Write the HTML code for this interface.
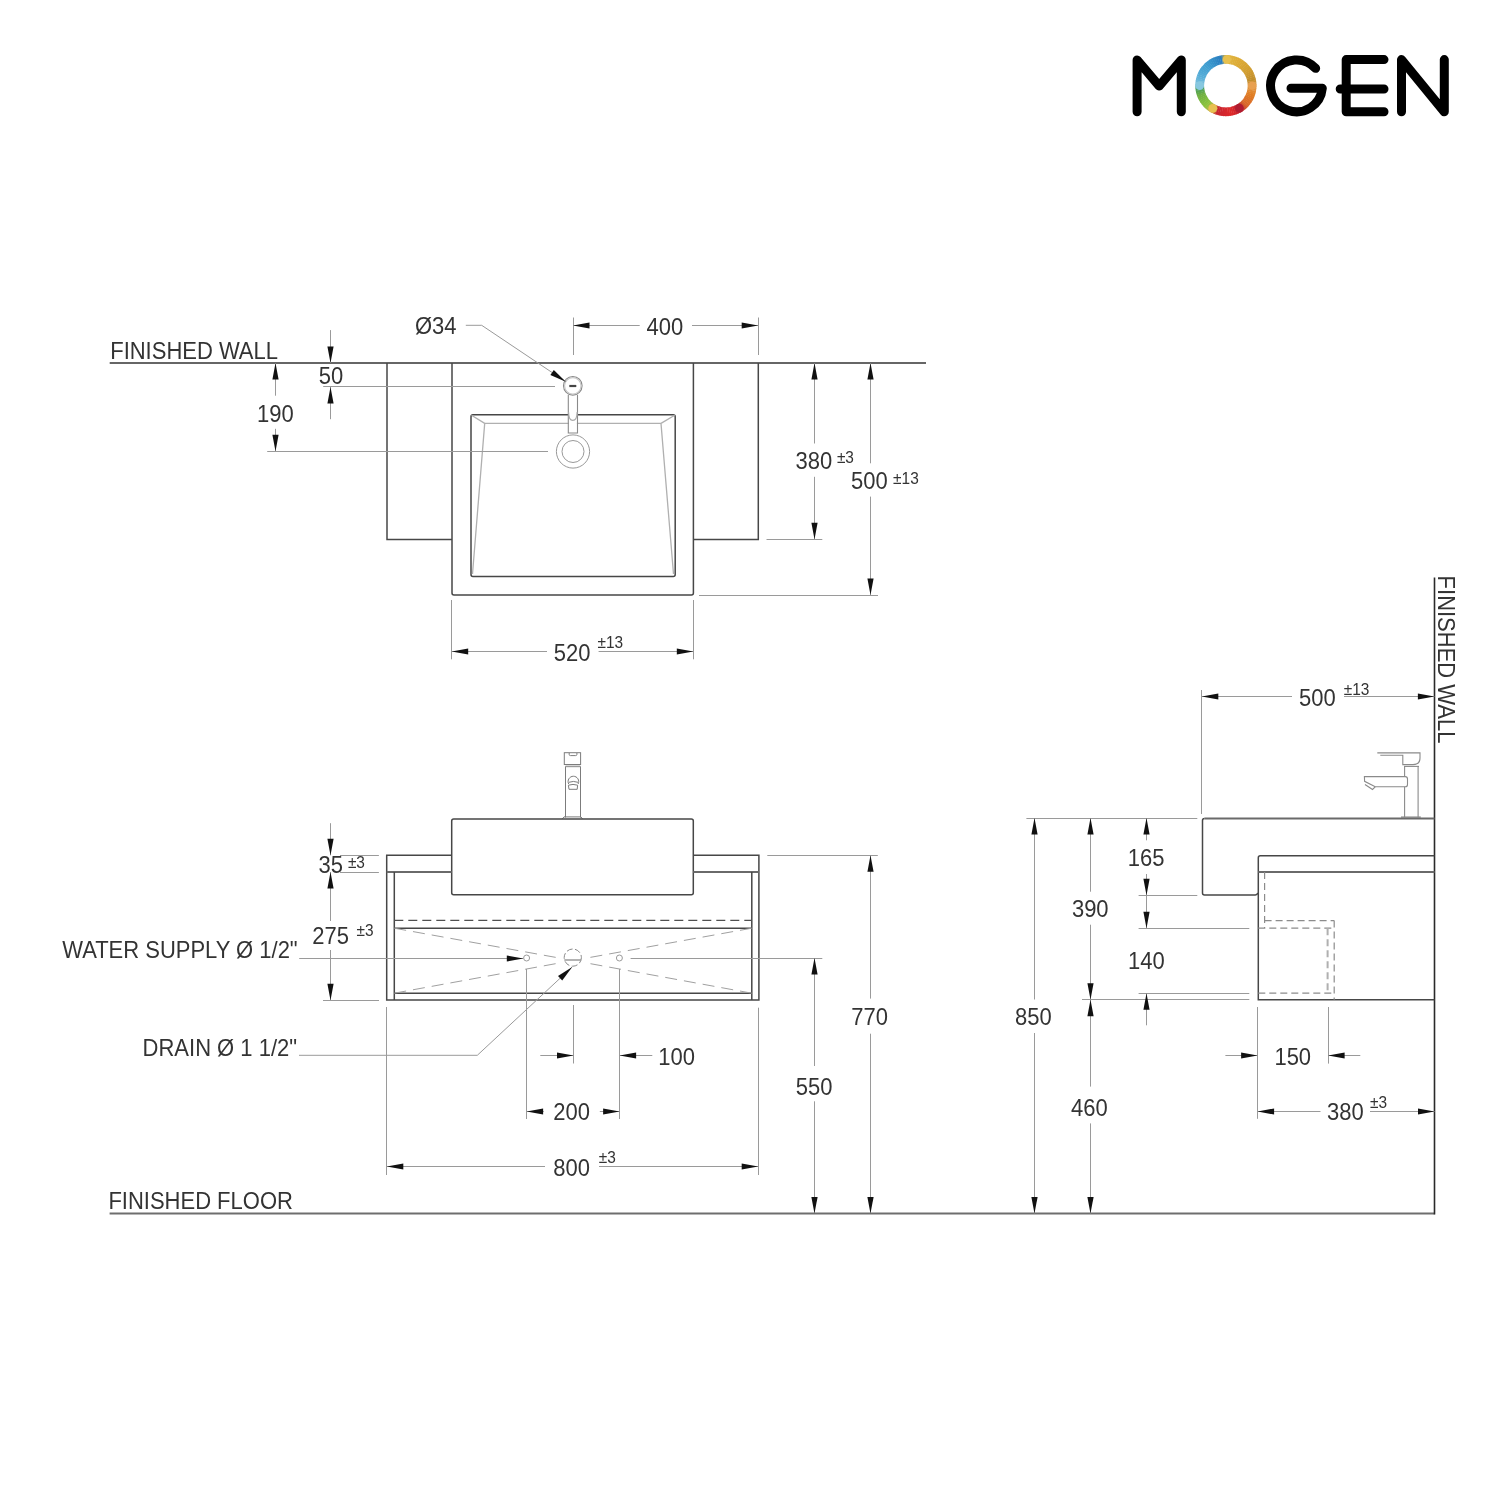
<!DOCTYPE html>
<html><head><meta charset="utf-8"><title>Vanity drawing</title>
<style>
html,body{margin:0;padding:0;background:#fff;}
body{width:1500px;height:1500px;overflow:hidden;}
svg{display:block;will-change:transform;}
.t{font-family:"Liberation Sans",sans-serif;fill:#333;}
</style></head>
<body>
<svg width="1500" height="1500" viewBox="0 0 1500 1500">
<rect width="1500" height="1500" fill="#fff"/>
<g stroke="#000" stroke-width="9" fill="none" stroke-linecap="round" stroke-linejoin="round">
<path d="M1137.1,111.7 V59.9 L1159.2,86 L1181.3,59.9 V111.7"/>
<path d="M1315.65,68.37 A25.9,25.9 0 1 0 1322.30,88.30 H1291"/>
<path d="M1384,59.6 H1346.2 V111.8 H1384 M1340.2,89 H1384"/>
<path d="M1401.5,111.8 V59.6 L1444.3,111.8 V59.6"/>
</g>
<path d="M1225.72,59.40 A26.2,26.2 0 0 1 1227.91,59.48" stroke="#e2b744" stroke-width="8.8" fill="none"/>
<path d="M1227.55,59.45 A26.2,26.2 0 0 1 1229.73,59.68" stroke="#e1b542" stroke-width="8.8" fill="none"/>
<path d="M1229.37,59.63 A26.2,26.2 0 0 1 1231.53,60.01" stroke="#e0b340" stroke-width="8.8" fill="none"/>
<path d="M1231.17,59.94 A26.2,26.2 0 0 1 1233.30,60.47" stroke="#dfb13e" stroke-width="8.8" fill="none"/>
<path d="M1232.95,60.37 A26.2,26.2 0 0 1 1235.03,61.04" stroke="#deb03b" stroke-width="8.8" fill="none"/>
<path d="M1234.69,60.92 A26.2,26.2 0 0 1 1236.72,61.74" stroke="#deae39" stroke-width="8.8" fill="none"/>
<path d="M1236.39,61.59 A26.2,26.2 0 0 1 1238.36,62.55" stroke="#ddac37" stroke-width="8.8" fill="none"/>
<path d="M1238.04,62.38 A26.2,26.2 0 0 1 1239.94,63.48" stroke="#dcaa35" stroke-width="8.8" fill="none"/>
<path d="M1239.63,63.28 A26.2,26.2 0 0 1 1241.45,64.51" stroke="#daa834" stroke-width="8.8" fill="none"/>
<path d="M1241.15,64.30 A26.2,26.2 0 0 1 1242.88,65.65" stroke="#d9a634" stroke-width="8.8" fill="none"/>
<path d="M1242.60,65.41 A26.2,26.2 0 0 1 1244.23,66.88" stroke="#d7a433" stroke-width="8.8" fill="none"/>
<path d="M1243.97,66.63 A26.2,26.2 0 0 1 1245.49,68.21" stroke="#d6a332" stroke-width="8.8" fill="none"/>
<path d="M1245.25,67.93 A26.2,26.2 0 0 1 1246.66,69.61" stroke="#d4a132" stroke-width="8.8" fill="none"/>
<path d="M1246.43,69.33 A26.2,26.2 0 0 1 1247.72,71.10" stroke="#d29f31" stroke-width="8.8" fill="none"/>
<path d="M1247.52,70.80 A26.2,26.2 0 0 1 1248.68,72.66" stroke="#d19d30" stroke-width="8.8" fill="none"/>
<path d="M1248.50,72.34 A26.2,26.2 0 0 1 1249.53,74.28" stroke="#ce9a30" stroke-width="8.8" fill="none"/>
<path d="M1249.37,73.95 A26.2,26.2 0 0 1 1250.26,75.96" stroke="#cb972f" stroke-width="8.8" fill="none"/>
<path d="M1250.12,75.62 A26.2,26.2 0 0 1 1250.87,77.68" stroke="#c7942e" stroke-width="8.8" fill="none"/>
<path d="M1250.76,77.33 A26.2,26.2 0 0 1 1251.37,79.44" stroke="#c4912d" stroke-width="8.8" fill="none"/>
<path d="M1251.28,79.08 A26.2,26.2 0 0 1 1251.73,81.23" stroke="#c08e2c" stroke-width="8.8" fill="none"/>
<path d="M1251.67,80.87 A26.2,26.2 0 0 1 1251.97,83.04" stroke="#ca9133" stroke-width="8.8" fill="none"/>
<path d="M1251.94,82.68 A26.2,26.2 0 0 1 1252.09,84.87" stroke="#d4953a" stroke-width="8.8" fill="none"/>
<path d="M1252.08,84.50 A26.2,26.2 0 0 1 1252.08,86.70" stroke="#de9841" stroke-width="8.8" fill="none"/>
<path d="M1252.09,86.33 A26.2,26.2 0 0 1 1251.94,88.52" stroke="#e39741" stroke-width="8.8" fill="none"/>
<path d="M1251.97,88.16 A26.2,26.2 0 0 1 1251.67,90.33" stroke="#e2913a" stroke-width="8.8" fill="none"/>
<path d="M1251.73,89.97 A26.2,26.2 0 0 1 1251.28,92.12" stroke="#e18a33" stroke-width="8.8" fill="none"/>
<path d="M1251.37,91.76 A26.2,26.2 0 0 1 1250.76,93.87" stroke="#e1842b" stroke-width="8.8" fill="none"/>
<path d="M1250.87,93.52 A26.2,26.2 0 0 1 1250.12,95.58" stroke="#e07e24" stroke-width="8.8" fill="none"/>
<path d="M1250.26,95.24 A26.2,26.2 0 0 1 1249.37,97.25" stroke="#df7a25" stroke-width="8.8" fill="none"/>
<path d="M1249.53,96.92 A26.2,26.2 0 0 1 1248.50,98.86" stroke="#dd7626" stroke-width="8.8" fill="none"/>
<path d="M1248.68,98.54 A26.2,26.2 0 0 1 1247.52,100.40" stroke="#dc7227" stroke-width="8.8" fill="none"/>
<path d="M1247.72,100.10 A26.2,26.2 0 0 1 1246.43,101.87" stroke="#db6f28" stroke-width="8.8" fill="none"/>
<path d="M1246.66,101.59 A26.2,26.2 0 0 1 1245.25,103.27" stroke="#da6b29" stroke-width="8.8" fill="none"/>
<path d="M1245.49,102.99 A26.2,26.2 0 0 1 1243.97,104.57" stroke="#d8672a" stroke-width="8.8" fill="none"/>
<path d="M1244.23,104.32 A26.2,26.2 0 0 1 1242.60,105.79" stroke="#d2582b" stroke-width="8.8" fill="none"/>
<path d="M1242.88,105.55 A26.2,26.2 0 0 1 1241.15,106.90" stroke="#c9452d" stroke-width="8.8" fill="none"/>
<path d="M1241.45,106.69 A26.2,26.2 0 0 1 1239.63,107.92" stroke="#c1332e" stroke-width="8.8" fill="none"/>
<path d="M1239.94,107.72 A26.2,26.2 0 0 1 1238.04,108.82" stroke="#b82030" stroke-width="8.8" fill="none"/>
<path d="M1238.36,108.65 A26.2,26.2 0 0 1 1236.39,109.61" stroke="#c1222f" stroke-width="8.8" fill="none"/>
<path d="M1236.72,109.46 A26.2,26.2 0 0 1 1234.69,110.28" stroke="#ca242d" stroke-width="8.8" fill="none"/>
<path d="M1235.03,110.16 A26.2,26.2 0 0 1 1232.95,110.83" stroke="#d3272c" stroke-width="8.8" fill="none"/>
<path d="M1233.30,110.73 A26.2,26.2 0 0 1 1231.17,111.26" stroke="#dc292b" stroke-width="8.8" fill="none"/>
<path d="M1231.53,111.19 A26.2,26.2 0 0 1 1229.37,111.57" stroke="#de2a2a" stroke-width="8.8" fill="none"/>
<path d="M1229.73,111.52 A26.2,26.2 0 0 1 1227.55,111.75" stroke="#db292b" stroke-width="8.8" fill="none"/>
<path d="M1227.91,111.72 A26.2,26.2 0 0 1 1225.72,111.80" stroke="#d8282c" stroke-width="8.8" fill="none"/>
<path d="M1226.08,111.80 A26.2,26.2 0 0 1 1223.89,111.72" stroke="#d5272d" stroke-width="8.8" fill="none"/>
<path d="M1224.25,111.75 A26.2,26.2 0 0 1 1222.07,111.52" stroke="#d2262e" stroke-width="8.8" fill="none"/>
<path d="M1222.43,111.57 A26.2,26.2 0 0 1 1220.27,111.19" stroke="#ce262e" stroke-width="8.8" fill="none"/>
<path d="M1220.63,111.26 A26.2,26.2 0 0 1 1218.50,110.73" stroke="#cb252f" stroke-width="8.8" fill="none"/>
<path d="M1218.85,110.83 A26.2,26.2 0 0 1 1216.77,110.16" stroke="#c82430" stroke-width="8.8" fill="none"/>
<path d="M1217.11,110.28 A26.2,26.2 0 0 1 1215.08,109.46" stroke="#c84c37" stroke-width="8.8" fill="none"/>
<path d="M1215.41,109.61 A26.2,26.2 0 0 1 1213.44,108.65" stroke="#c8743e" stroke-width="8.8" fill="none"/>
<path d="M1213.76,108.82 A26.2,26.2 0 0 1 1211.86,107.72" stroke="#c89c45" stroke-width="8.8" fill="none"/>
<path d="M1212.17,107.92 A26.2,26.2 0 0 1 1210.35,106.69" stroke="#bfb346" stroke-width="8.8" fill="none"/>
<path d="M1210.65,106.90 A26.2,26.2 0 0 1 1208.92,105.55" stroke="#acb942" stroke-width="8.8" fill="none"/>
<path d="M1209.20,105.79 A26.2,26.2 0 0 1 1207.57,104.32" stroke="#9abf3f" stroke-width="8.8" fill="none"/>
<path d="M1207.83,104.57 A26.2,26.2 0 0 1 1206.31,102.99" stroke="#8bc33c" stroke-width="8.8" fill="none"/>
<path d="M1206.55,103.27 A26.2,26.2 0 0 1 1205.14,101.59" stroke="#86c03d" stroke-width="8.8" fill="none"/>
<path d="M1205.37,101.87 A26.2,26.2 0 0 1 1204.08,100.10" stroke="#82bd3e" stroke-width="8.8" fill="none"/>
<path d="M1204.28,100.40 A26.2,26.2 0 0 1 1203.12,98.54" stroke="#7dba3f" stroke-width="8.8" fill="none"/>
<path d="M1203.30,98.86 A26.2,26.2 0 0 1 1202.27,96.92" stroke="#79b640" stroke-width="8.8" fill="none"/>
<path d="M1202.43,97.25 A26.2,26.2 0 0 1 1201.54,95.24" stroke="#74b341" stroke-width="8.8" fill="none"/>
<path d="M1201.68,95.58 A26.2,26.2 0 0 1 1200.93,93.52" stroke="#70b042" stroke-width="8.8" fill="none"/>
<path d="M1201.04,93.87 A26.2,26.2 0 0 1 1200.43,91.76" stroke="#64aa49" stroke-width="8.8" fill="none"/>
<path d="M1200.52,92.12 A26.2,26.2 0 0 1 1200.07,89.97" stroke="#59a550" stroke-width="8.8" fill="none"/>
<path d="M1200.13,90.33 A26.2,26.2 0 0 1 1199.83,88.16" stroke="#4d9f56" stroke-width="8.8" fill="none"/>
<path d="M1199.86,88.52 A26.2,26.2 0 0 1 1199.71,86.33" stroke="#5ba984" stroke-width="8.8" fill="none"/>
<path d="M1199.72,86.70 A26.2,26.2 0 0 1 1199.72,84.50" stroke="#71b8bf" stroke-width="8.8" fill="none"/>
<path d="M1199.71,84.87 A26.2,26.2 0 0 1 1199.86,82.68" stroke="#78bedc" stroke-width="8.8" fill="none"/>
<path d="M1199.83,83.04 A26.2,26.2 0 0 1 1200.13,80.87" stroke="#70badb" stroke-width="8.8" fill="none"/>
<path d="M1200.07,81.23 A26.2,26.2 0 0 1 1200.52,79.08" stroke="#68b6da" stroke-width="8.8" fill="none"/>
<path d="M1200.43,79.44 A26.2,26.2 0 0 1 1201.04,77.33" stroke="#60b2d9" stroke-width="8.8" fill="none"/>
<path d="M1200.93,77.68 A26.2,26.2 0 0 1 1201.68,75.62" stroke="#58aed8" stroke-width="8.8" fill="none"/>
<path d="M1201.54,75.96 A26.2,26.2 0 0 1 1202.43,73.95" stroke="#54acd7" stroke-width="8.8" fill="none"/>
<path d="M1202.27,74.28 A26.2,26.2 0 0 1 1203.30,72.34" stroke="#51a9d6" stroke-width="8.8" fill="none"/>
<path d="M1203.12,72.66 A26.2,26.2 0 0 1 1204.28,70.80" stroke="#4da7d4" stroke-width="8.8" fill="none"/>
<path d="M1204.08,71.10 A26.2,26.2 0 0 1 1205.37,69.33" stroke="#4aa4d3" stroke-width="8.8" fill="none"/>
<path d="M1205.14,69.61 A26.2,26.2 0 0 1 1206.55,67.93" stroke="#46a2d2" stroke-width="8.8" fill="none"/>
<path d="M1206.31,68.21 A26.2,26.2 0 0 1 1207.83,66.63" stroke="#42a0d1" stroke-width="8.8" fill="none"/>
<path d="M1207.57,66.88 A26.2,26.2 0 0 1 1209.20,65.41" stroke="#3f9dd0" stroke-width="8.8" fill="none"/>
<path d="M1208.92,65.65 A26.2,26.2 0 0 1 1210.65,64.30" stroke="#3c9ace" stroke-width="8.8" fill="none"/>
<path d="M1210.35,64.51 A26.2,26.2 0 0 1 1212.17,63.28" stroke="#3996cc" stroke-width="8.8" fill="none"/>
<path d="M1211.86,63.48 A26.2,26.2 0 0 1 1213.76,62.38" stroke="#3792ca" stroke-width="8.8" fill="none"/>
<path d="M1213.44,62.55 A26.2,26.2 0 0 1 1215.41,61.59" stroke="#348ec8" stroke-width="8.8" fill="none"/>
<path d="M1215.08,61.74 A26.2,26.2 0 0 1 1217.11,60.92" stroke="#328ac6" stroke-width="8.8" fill="none"/>
<path d="M1216.77,61.04 A26.2,26.2 0 0 1 1218.85,60.37" stroke="#2f86c4" stroke-width="8.8" fill="none"/>
<path d="M1218.50,60.47 A26.2,26.2 0 0 1 1220.63,59.94" stroke="#2d82c2" stroke-width="8.8" fill="none"/>
<path d="M1220.27,60.01 A26.2,26.2 0 0 1 1222.43,59.63" stroke="#2a7ec0" stroke-width="8.8" fill="none"/>
<path d="M1222.07,59.68 A26.2,26.2 0 0 1 1224.25,59.45" stroke="#74958f" stroke-width="8.8" fill="none"/>
<path d="M1223.89,59.48 A26.2,26.2 0 0 1 1226.08,59.40" stroke="#bdac5e" stroke-width="8.8" fill="none"/>
<circle cx="1226.81" cy="59.42" r="4.2" fill="#e6c04e"/>
<circle cx="1252.10" cy="85.60" r="4.2" fill="#e8a050"/>
<circle cx="1239.39" cy="108.06" r="4.4" fill="#b01c30"/>
<circle cx="1212.80" cy="108.29" r="4.4" fill="#e8c050"/>
<circle cx="1199.70" cy="85.60" r="4.3" fill="#88c8e0"/>
<line x1="109.7" y1="363" x2="926" y2="363" stroke="#333" stroke-width="1.6" />
<text class="t" transform="translate(110.2,358.8) scale(0.936,1)" font-size="23.5" >FINISHED WALL</text>
<path d="M387,363 V539.5 H452" stroke="#474747" stroke-width="1.5" fill="none" />
<path d="M758.3,363 V539.5 H693.4" stroke="#474747" stroke-width="1.5" fill="none" />
<path d="M452,363 V593 Q452,595 454,595 H691.4 Q693.4,595 693.4,593 V363" stroke="#474747" stroke-width="1.5" fill="none" />
<path d="M473,414.7 H673.2 Q675.2,414.7 675.2,416.7 V574.5 Q675.2,576.5 673.2,576.5 H473 Q471,576.5 471,574.5 V416.7 Q471,414.7 473,414.7 Z" stroke="#474747" stroke-width="1.5" fill="none" />
<g stroke="#b0b0b0" stroke-width="1.3" fill="none">
<path d="M484.7,423.4 H661 L673.5,574 M484.7,423.4 L472.5,574 M471.5,415.2 L484.7,423.4 M674.7,415.2 L661,423.4"/>
</g>
<rect x="568.9" y="405" width="8" height="27.5" fill="#fff"/>
<g stroke="#8a8a8a" stroke-width="1.1" fill="none">
<circle cx="572.8" cy="385.8" r="9.3"/>
<circle cx="572.8" cy="385.8" r="8.2" stroke="#c8c8c8"/>
<path d="M568.3,394.8 V433 H577.5 V394.8"/>
<path d="M568.6,412 Q568.6,420.4 572.8,420.4 Q577.1,420.4 577.1,412" stroke="#aaa"/>
</g>
<line x1="569.3" y1="386" x2="576.3" y2="386" stroke="#444" stroke-width="2.2" />
<circle cx="573" cy="451.5" r="16.6" stroke="#999" stroke-width="1" fill="none"/>
<circle cx="573" cy="451.5" r="11" stroke="#999" stroke-width="1" fill="none"/>
<path d="M465.8,325.3 H481.7 L565.8,381.7" stroke="#9a9a9a" stroke-width="1.0" fill="none" />
<polygon points="565.80,381.70 550.37,375.08 553.82,369.94" fill="#111"/>
<text class="t" transform="translate(415.0,334.2) scale(0.936,1)" font-size="23.5" >Ø34</text>
<line x1="573.5" y1="317.5" x2="573.5" y2="355" stroke="#9a9a9a" stroke-width="1.0" />
<line x1="758.5" y1="317.5" x2="758.5" y2="355" stroke="#9a9a9a" stroke-width="1.0" />
<line x1="573" y1="325.5" x2="639.7" y2="325.5" stroke="#9a9a9a" stroke-width="1.0" />
<line x1="692" y1="325.5" x2="758.2" y2="325.5" stroke="#9a9a9a" stroke-width="1.0" />
<polygon points="573.00,325.50 589.50,322.40 589.50,328.60" fill="#111"/>
<polygon points="758.20,325.50 741.70,328.60 741.70,322.40" fill="#111"/>
<text class="t" transform="translate(646.51,335.13) scale(0.936,1)" font-size="23.5" >400</text>
<line x1="330.5" y1="330.1" x2="330.5" y2="363" stroke="#9a9a9a" stroke-width="1.0" />
<polygon points="330.50,363.00 327.40,346.50 333.60,346.50" fill="#111"/>
<line x1="330.5" y1="386.9" x2="330.5" y2="419.2" stroke="#9a9a9a" stroke-width="1.0" />
<polygon points="330.50,386.90 333.60,403.40 327.40,403.40" fill="#111"/>
<line x1="323.2" y1="386.5" x2="555" y2="386.5" stroke="#9a9a9a" stroke-width="1.0" />
<text class="t" transform="translate(318.81,383.73) scale(0.936,1)" font-size="23.5" >50</text>
<line x1="275.5" y1="363" x2="275.5" y2="395.7" stroke="#9a9a9a" stroke-width="1.0" />
<polygon points="275.50,363.00 278.60,379.50 272.40,379.50" fill="#111"/>
<line x1="275.5" y1="428.8" x2="275.5" y2="451.2" stroke="#9a9a9a" stroke-width="1.0" />
<polygon points="275.50,451.20 272.40,434.70 278.60,434.70" fill="#111"/>
<line x1="267.2" y1="451.5" x2="548" y2="451.5" stroke="#9a9a9a" stroke-width="1.0" />
<text class="t" transform="translate(257.11,421.63) scale(0.936,1)" font-size="23.5" >190</text>
<line x1="766.5" y1="539.5" x2="822.3" y2="539.5" stroke="#9a9a9a" stroke-width="1.0" />
<line x1="814.5" y1="363" x2="814.5" y2="443.5" stroke="#9a9a9a" stroke-width="1.0" />
<line x1="814.5" y1="476.8" x2="814.5" y2="539.2" stroke="#9a9a9a" stroke-width="1.0" />
<polygon points="814.50,363.00 817.60,379.50 811.40,379.50" fill="#111"/>
<polygon points="814.50,539.20 811.40,522.70 817.60,522.70" fill="#111"/>
<text class="t" transform="translate(795.61,468.83) scale(0.936,1)" font-size="23.5" >380</text>
<text class="t" transform="translate(836.89,463.01) scale(0.936,1)" font-size="16.5" >±3</text>
<line x1="699" y1="595.5" x2="878" y2="595.5" stroke="#9a9a9a" stroke-width="1.0" />
<line x1="870.5" y1="363" x2="870.5" y2="463.3" stroke="#9a9a9a" stroke-width="1.0" />
<line x1="870.5" y1="496.6" x2="870.5" y2="595" stroke="#9a9a9a" stroke-width="1.0" />
<polygon points="870.50,363.00 873.60,379.50 867.40,379.50" fill="#111"/>
<polygon points="870.50,595.00 867.40,578.50 873.60,578.50" fill="#111"/>
<text class="t" transform="translate(851.01,488.53) scale(0.936,1)" font-size="23.5" >500</text>
<text class="t" transform="translate(893.09,483.51) scale(0.936,1)" font-size="16.5" >±13</text>
<line x1="451.5" y1="600" x2="451.5" y2="659.3" stroke="#9a9a9a" stroke-width="1.0" />
<line x1="693.5" y1="600" x2="693.5" y2="659.3" stroke="#9a9a9a" stroke-width="1.0" />
<line x1="451.7" y1="651.5" x2="547" y2="651.5" stroke="#9a9a9a" stroke-width="1.0" />
<line x1="598.6" y1="651.5" x2="693.3" y2="651.5" stroke="#9a9a9a" stroke-width="1.0" />
<polygon points="451.70,651.50 468.20,648.40 468.20,654.60" fill="#111"/>
<polygon points="693.30,651.50 676.80,654.60 676.80,648.40" fill="#111"/>
<text class="t" transform="translate(553.71,660.63) scale(0.936,1)" font-size="23.5" >520</text>
<text class="t" transform="translate(597.49,647.91) scale(0.936,1)" font-size="16.5" >±13</text>
<g stroke="#7c7c7c" stroke-width="1" fill="none">
<rect x="564.3" y="752.7" width="16.3" height="11.8"/>
<path d="M569.2,753 V754.5 Q569.2,755.6 570.5,755.6 H575.6 Q576.9,755.6 576.9,754.5 V753"/>
<path d="M565.5,766.3 V817.5 M580.5,766.3 V817.5"/>
<path d="M568.7,784 A5.3,5.3 0 1 1 578.1,784 M568.8,782.3 Q573.4,780.6 578,782.3 M568.4,785.2 Q573,783.6 577.6,785.2 L577.2,789.3 H569 Z"/>
<path d="M562.3,818.8 L564,816.9 H581 L582.5,818.8"/>
</g>
<line x1="565.5" y1="766.4" x2="580.5" y2="766.4" stroke="#9a9a9a" stroke-width="1.6" />
<path d="M453.7,818.9 H691.3 Q693.3,818.9 693.3,820.9 V892.8 Q693.3,894.8 691.3,894.8 H453.7 Q451.7,894.8 451.7,892.8 V820.9 Q451.7,818.9 453.7,818.9 Z" stroke="#474747" stroke-width="1.5" fill="none" />
<path d="M451.7,855.3 H386.7 V1000 H758.9 V855.3 H693.3" stroke="#474747" stroke-width="1.5" fill="none" />
<line x1="386.7" y1="872.1" x2="451.7" y2="872.1" stroke="#6a6a6a" stroke-width="2" />
<line x1="693.3" y1="872.1" x2="758.9" y2="872.1" stroke="#6a6a6a" stroke-width="2" />
<path d="M394.3,872.1 V1000 M751.8,872.1 V1000" stroke="#474747" stroke-width="1.5" fill="none" />
<line x1="394.3" y1="920.4" x2="751.8" y2="920.4" stroke="#505050" stroke-width="1.4" stroke-dasharray="9 5"/>
<path d="M394.3,928.2 H751.8 M394.3,993.2 H751.8" stroke="#474747" stroke-width="1.5" fill="none" />
<g stroke="#a0a0a0" stroke-width="1" stroke-dasharray="12 7" fill="none">
<path d="M394.3,928.2 L558.6,957.90 M394.3,993.2 L558.6,963.14 M751.8,928.2 L587,957.97 M751.8,993.2 L587,963.06"/>
</g>
<circle cx="572.8" cy="957.6" r="8.6" stroke="#8a8a8a" stroke-width="1" fill="none" stroke-dasharray="6 2.5"/>
<line x1="564.3" y1="960" x2="580.9" y2="960" stroke="#8a8a8a" stroke-width="1.3" />
<circle cx="526.6" cy="958" r="3" stroke="#9a9a9a" stroke-width="1" fill="none"/>
<circle cx="619.4" cy="958" r="3" stroke="#9a9a9a" stroke-width="1" fill="none"/>
<line x1="299.2" y1="958.5" x2="523" y2="958.5" stroke="#9a9a9a" stroke-width="1.0" />
<polygon points="523.30,958.50 506.80,961.60 506.80,955.40" fill="#111"/>
<line x1="630.6" y1="958.5" x2="822.3" y2="958.5" stroke="#9a9a9a" stroke-width="1.0" />
<text class="t" transform="translate(62.2,958.3) scale(0.936,1)" font-size="23.5" >WATER SUPPLY Ø 1/2"</text>
<path d="M299,1055.3 H477.3 L572.2,967" stroke="#9a9a9a" stroke-width="1.0" fill="none" />
<polygon points="572.20,967.00 562.23,980.51 558.01,975.97" fill="#111"/>
<text class="t" transform="translate(142.6,1055.9) scale(0.936,1)" font-size="23.5" >DRAIN Ø 1 1/2"</text>
<line x1="526.5" y1="969" x2="526.5" y2="1119" stroke="#9a9a9a" stroke-width="1.0" />
<line x1="573.5" y1="1005" x2="573.5" y2="1063.5" stroke="#9a9a9a" stroke-width="1.0" />
<line x1="619.5" y1="969" x2="619.5" y2="1119" stroke="#9a9a9a" stroke-width="1.0" />
<line x1="386.5" y1="1007" x2="386.5" y2="1175" stroke="#9a9a9a" stroke-width="1.0" />
<line x1="758.5" y1="1007.7" x2="758.5" y2="1175" stroke="#9a9a9a" stroke-width="1.0" />
<line x1="540.3" y1="1055.5" x2="573.5" y2="1055.5" stroke="#9a9a9a" stroke-width="1.0" />
<polygon points="573.50,1055.50 557.00,1058.60 557.00,1052.40" fill="#111"/>
<line x1="619.6" y1="1055.5" x2="652.3" y2="1055.5" stroke="#9a9a9a" stroke-width="1.0" />
<polygon points="619.60,1055.50 636.10,1052.40 636.10,1058.60" fill="#111"/>
<text class="t" transform="translate(658.31,1064.63) scale(0.936,1)" font-size="23.5" >100</text>
<line x1="526.3" y1="1111.5" x2="543.8" y2="1111.5" stroke="#9a9a9a" stroke-width="1.0" />
<polygon points="526.60,1111.50 543.10,1108.40 543.10,1114.60" fill="#111"/>
<line x1="599.8" y1="1111.5" x2="619.6" y2="1111.5" stroke="#9a9a9a" stroke-width="1.0" />
<polygon points="619.60,1111.50 603.10,1114.60 603.10,1108.40" fill="#111"/>
<text class="t" transform="translate(553.31,1119.83) scale(0.936,1)" font-size="23.5" >200</text>
<line x1="386.8" y1="1166.5" x2="545" y2="1166.5" stroke="#9a9a9a" stroke-width="1.0" />
<polygon points="386.80,1166.50 403.30,1163.40 403.30,1169.60" fill="#111"/>
<line x1="599" y1="1166.5" x2="758.2" y2="1166.5" stroke="#9a9a9a" stroke-width="1.0" />
<polygon points="758.20,1166.50 741.70,1169.60 741.70,1163.40" fill="#111"/>
<text class="t" transform="translate(553.31,1175.83) scale(0.936,1)" font-size="23.5" >800</text>
<text class="t" transform="translate(598.69,1163.01) scale(0.936,1)" font-size="16.5" >±3</text>
<line x1="330.5" y1="823.2" x2="330.5" y2="855.3" stroke="#9a9a9a" stroke-width="1.0" />
<polygon points="330.50,855.30 327.40,838.80 333.60,838.80" fill="#111"/>
<line x1="330.5" y1="872.1" x2="330.5" y2="921" stroke="#9a9a9a" stroke-width="1.0" />
<polygon points="330.50,872.10 333.60,888.60 327.40,888.60" fill="#111"/>
<line x1="330.5" y1="950" x2="330.5" y2="1000.3" stroke="#9a9a9a" stroke-width="1.0" />
<polygon points="330.50,1000.30 327.40,983.80 333.60,983.80" fill="#111"/>
<line x1="340" y1="855.5" x2="378.9" y2="855.5" stroke="#9a9a9a" stroke-width="1.0" />
<line x1="340" y1="872.5" x2="378.9" y2="872.5" stroke="#9a9a9a" stroke-width="1.0" />
<line x1="323" y1="1000.5" x2="379" y2="1000.5" stroke="#9a9a9a" stroke-width="1.0" />
<text class="t" transform="translate(318.41,872.63) scale(0.936,1)" font-size="23.5" >35</text>
<text class="t" transform="translate(347.89,868.31) scale(0.936,1)" font-size="16.5" >±3</text>
<text class="t" transform="translate(312.21,944.33) scale(0.936,1)" font-size="23.5" >275</text>
<text class="t" transform="translate(356.49,936.31) scale(0.936,1)" font-size="16.5" >±3</text>
<line x1="767.3" y1="855.5" x2="877.8" y2="855.5" stroke="#9a9a9a" stroke-width="1.0" />
<line x1="870.5" y1="855.3" x2="870.5" y2="998.6" stroke="#9a9a9a" stroke-width="1.0" />
<polygon points="870.50,855.30 873.60,871.80 867.40,871.80" fill="#111"/>
<line x1="870.5" y1="1033.7" x2="870.5" y2="1213.5" stroke="#9a9a9a" stroke-width="1.0" />
<polygon points="870.50,1213.50 867.40,1197.00 873.60,1197.00" fill="#111"/>
<text class="t" transform="translate(851.31,1024.53) scale(0.936,1)" font-size="23.5" >770</text>
<line x1="814.5" y1="958" x2="814.5" y2="1066" stroke="#9a9a9a" stroke-width="1.0" />
<polygon points="814.50,958.00 817.60,974.50 811.40,974.50" fill="#111"/>
<line x1="814.5" y1="1101.3" x2="814.5" y2="1213.5" stroke="#9a9a9a" stroke-width="1.0" />
<polygon points="814.50,1213.50 811.40,1197.00 817.60,1197.00" fill="#111"/>
<text class="t" transform="translate(795.71,1094.83) scale(0.936,1)" font-size="23.5" >550</text>
<line x1="109.6" y1="1213.5" x2="1434.5" y2="1213.5" stroke="#6e6e6e" stroke-width="2.2" />
<text class="t" transform="translate(108.4,1208.9) scale(0.936,1)" font-size="23.5" >FINISHED FLOOR</text>
<line x1="1434.5" y1="577.6" x2="1434.5" y2="1214.5" stroke="#2a2a2a" stroke-width="1.6" />
<text class="t" font-size="23.5" transform="translate(1438.0,575.6) rotate(90) scale(0.936,1)" x="0" y="0">FINISHED WALL</text>
<line x1="1204.5" y1="818.4" x2="1434.5" y2="818.4" stroke="#6a6a6a" stroke-width="2" />
<path d="M1204.5,818.4 Q1202.5,818.4 1202.5,820.4 V892.9 Q1202.5,894.9 1204.5,894.9 H1255.3 Q1257.4,894.9 1257.8,892.9" stroke="#474747" stroke-width="1.5" fill="none" />
<path d="M1434.5,855.8 H1260.3 Q1258.3,855.8 1258.3,857.8 V999.8 H1434.5" stroke="#474747" stroke-width="1.5" fill="none" />
<line x1="1258.3" y1="872" x2="1434.5" y2="872" stroke="#6a6a6a" stroke-width="2" />
<g stroke="#8c8c8c" stroke-width="1.2" fill="none" stroke-dasharray="7 4">
<path d="M1264.6,872 V928.2 M1264.6,920.6 H1334.2 M1258.3,928.2 H1334.2 M1258.3,993.1 H1334.2 M1334.2,920.6 V999.8"/>
<path d="M1327.6,928.2 V993.1" stroke="#b0b0b0" stroke-width="2"/>
</g>
<g stroke="#8a8a8a" stroke-width="1.1" fill="none">
<path d="M1377.3,752.9 H1420 V758 Q1420,764.6 1413,764.6 H1402.8 V755.3 H1380.3"/>
<path d="M1404,766.4 H1419"/>
<path d="M1404.6,766.4 V776.6 M1404.6,786.8 V818 M1418.1,766.4 V818"/>
<path d="M1364.4,776.6 H1405.3 Q1407.5,776.6 1407.5,779 V784.5 Q1407.5,786.8 1405.3,786.8 H1375.2 L1364.6,781.3 Z"/>
<path d="M1365,784.5 L1372.5,789.5 L1375.2,786.8"/>
</g>
<line x1="1401" y1="817.2" x2="1420.8" y2="817.2" stroke="#8a8a8a" stroke-width="1.5" />
<line x1="1026.4" y1="818.5" x2="1197.3" y2="818.5" stroke="#9a9a9a" stroke-width="1.0" />
<line x1="1138.6" y1="895.5" x2="1197.3" y2="895.5" stroke="#9a9a9a" stroke-width="1.0" />
<line x1="1138.6" y1="928.5" x2="1249.3" y2="928.5" stroke="#9a9a9a" stroke-width="1.0" />
<line x1="1138.6" y1="993.5" x2="1249.3" y2="993.5" stroke="#9a9a9a" stroke-width="1.0" />
<line x1="1082" y1="999.5" x2="1249.3" y2="999.5" stroke="#9a9a9a" stroke-width="1.0" />
<line x1="1201.5" y1="690" x2="1201.5" y2="814" stroke="#9a9a9a" stroke-width="1.0" />
<line x1="1257.5" y1="1007" x2="1257.5" y2="1118.8" stroke="#9a9a9a" stroke-width="1.0" />
<line x1="1328.5" y1="1007" x2="1328.5" y2="1063.6" stroke="#9a9a9a" stroke-width="1.0" />
<line x1="1201.8" y1="696.5" x2="1292" y2="696.5" stroke="#9a9a9a" stroke-width="1.0" />
<line x1="1344" y1="696.5" x2="1434.4" y2="696.5" stroke="#9a9a9a" stroke-width="1.0" />
<polygon points="1201.80,696.50 1218.30,693.40 1218.30,699.60" fill="#111"/>
<polygon points="1434.40,696.50 1417.90,699.60 1417.90,693.40" fill="#111"/>
<text class="t" transform="translate(1299.01,706.43) scale(0.936,1)" font-size="23.5" >500</text>
<text class="t" transform="translate(1343.69,694.81) scale(0.936,1)" font-size="16.5" >±13</text>
<line x1="1034.5" y1="818" x2="1034.5" y2="999.5" stroke="#9a9a9a" stroke-width="1.0" />
<polygon points="1034.50,818.00 1037.60,834.50 1031.40,834.50" fill="#111"/>
<line x1="1034.5" y1="1033" x2="1034.5" y2="1213.5" stroke="#9a9a9a" stroke-width="1.0" />
<polygon points="1034.50,1213.50 1031.40,1197.00 1037.60,1197.00" fill="#111"/>
<text class="t" transform="translate(1015.01,1025.23) scale(0.936,1)" font-size="23.5" >850</text>
<line x1="1090.5" y1="818" x2="1090.5" y2="891.7" stroke="#9a9a9a" stroke-width="1.0" />
<polygon points="1090.50,818.00 1093.60,834.50 1087.40,834.50" fill="#111"/>
<line x1="1090.5" y1="924.7" x2="1090.5" y2="999.7" stroke="#9a9a9a" stroke-width="1.0" />
<polygon points="1090.50,999.70 1087.40,983.20 1093.60,983.20" fill="#111"/>
<text class="t" transform="translate(1071.91,917.33) scale(0.936,1)" font-size="23.5" >390</text>
<line x1="1090.5" y1="999.7" x2="1090.5" y2="1086.6" stroke="#9a9a9a" stroke-width="1.0" />
<polygon points="1090.50,999.70 1093.60,1016.20 1087.40,1016.20" fill="#111"/>
<line x1="1090.5" y1="1123.4" x2="1090.5" y2="1213.5" stroke="#9a9a9a" stroke-width="1.0" />
<polygon points="1090.50,1213.50 1087.40,1197.00 1093.60,1197.00" fill="#111"/>
<text class="t" transform="translate(1071.01,1115.73) scale(0.936,1)" font-size="23.5" >460</text>
<line x1="1146.5" y1="818" x2="1146.5" y2="840.3" stroke="#9a9a9a" stroke-width="1.0" />
<polygon points="1146.50,818.00 1149.60,834.50 1143.40,834.50" fill="#111"/>
<line x1="1146.5" y1="874" x2="1146.5" y2="928.2" stroke="#9a9a9a" stroke-width="1.0" />
<polygon points="1146.50,895.30 1143.40,878.80 1149.60,878.80" fill="#111"/>
<polygon points="1146.50,928.20 1143.40,911.70 1149.60,911.70" fill="#111"/>
<text class="t" transform="translate(1127.81,865.93) scale(0.936,1)" font-size="23.5" >165</text>
<text class="t" transform="translate(1128.01,969.33) scale(0.936,1)" font-size="23.5" >140</text>
<line x1="1146.5" y1="993.3" x2="1146.5" y2="1025.3" stroke="#9a9a9a" stroke-width="1.0" />
<polygon points="1146.50,993.30 1149.60,1009.80 1143.40,1009.80" fill="#111"/>
<line x1="1225.4" y1="1055.5" x2="1257.6" y2="1055.5" stroke="#9a9a9a" stroke-width="1.0" />
<polygon points="1257.60,1055.50 1241.10,1058.60 1241.10,1052.40" fill="#111"/>
<line x1="1328.1" y1="1055.5" x2="1360.3" y2="1055.5" stroke="#9a9a9a" stroke-width="1.0" />
<polygon points="1328.10,1055.50 1344.60,1052.40 1344.60,1058.60" fill="#111"/>
<text class="t" transform="translate(1274.41,1065.13) scale(0.936,1)" font-size="23.5" >150</text>
<line x1="1257.6" y1="1111.5" x2="1320.5" y2="1111.5" stroke="#9a9a9a" stroke-width="1.0" />
<polygon points="1257.60,1111.50 1274.10,1108.40 1274.10,1114.60" fill="#111"/>
<line x1="1370" y1="1111.5" x2="1434.5" y2="1111.5" stroke="#9a9a9a" stroke-width="1.0" />
<polygon points="1434.50,1111.50 1418.00,1114.60 1418.00,1108.40" fill="#111"/>
<text class="t" transform="translate(1327.11,1120.33) scale(0.936,1)" font-size="23.5" >380</text>
<text class="t" transform="translate(1370.09,1107.61) scale(0.936,1)" font-size="16.5" >±3</text>
</svg>
</body></html>
